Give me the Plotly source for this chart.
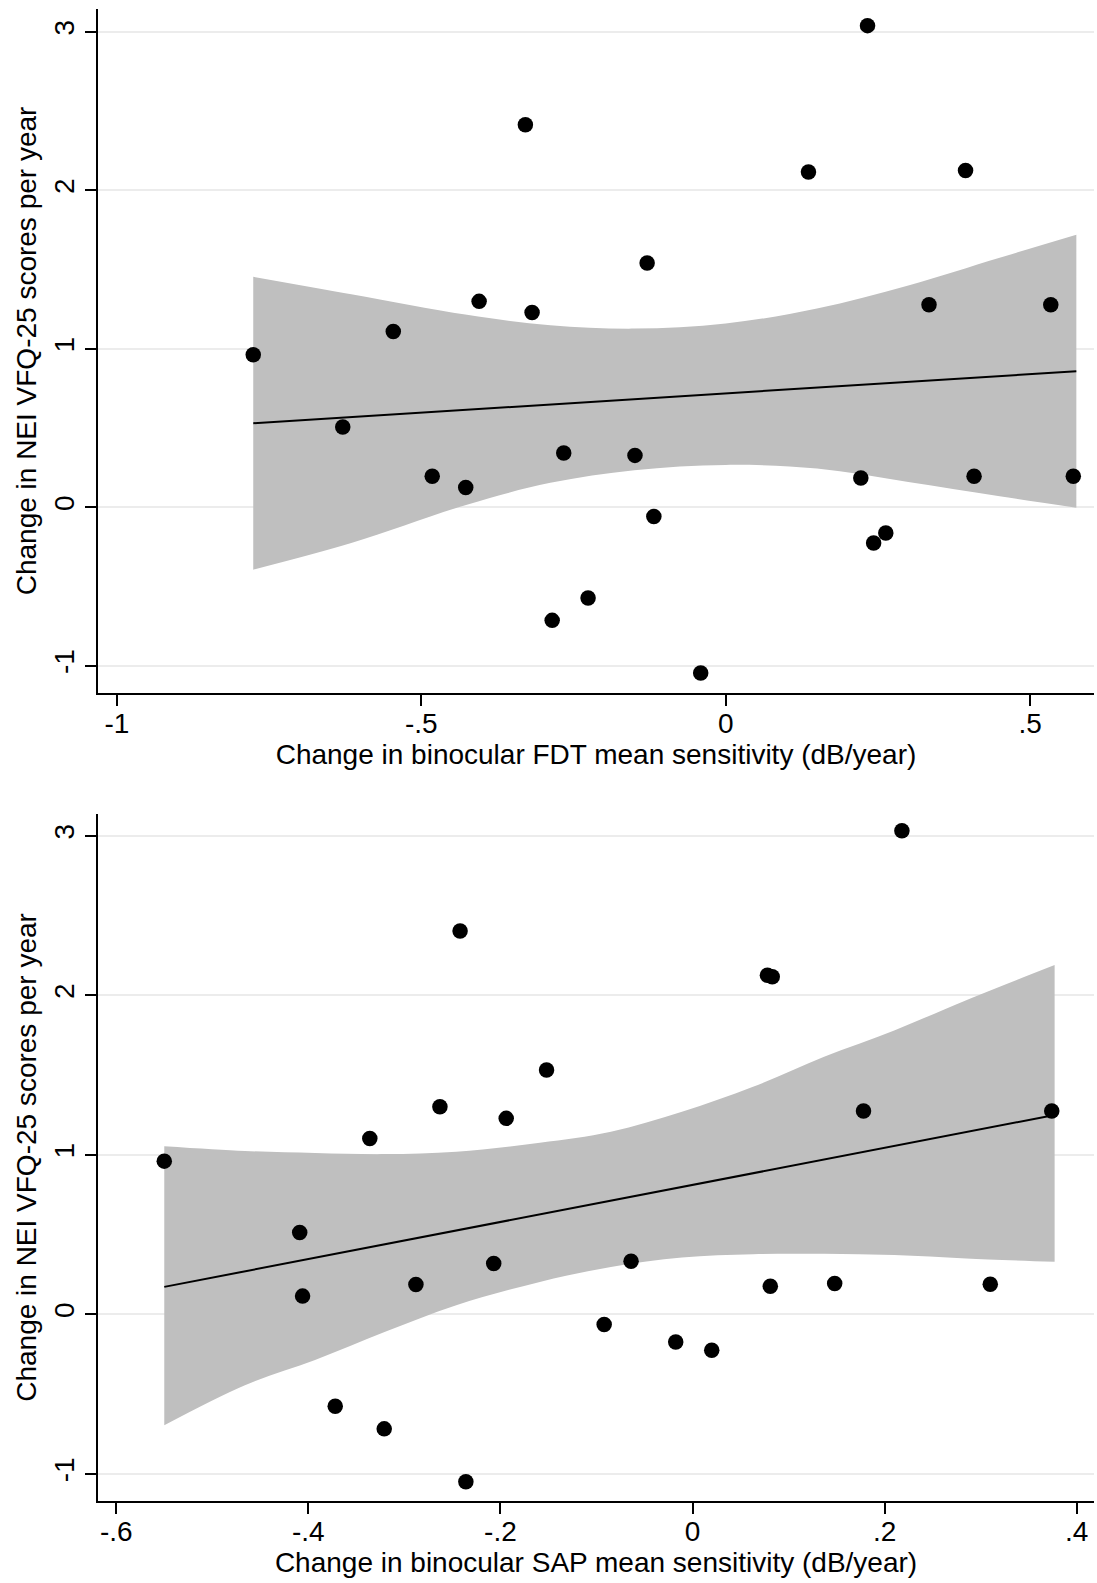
import plotly.graph_objects as go

# ---------------- data ----------------
fdt_x = [-0.776, -0.629, -0.546, -0.482, -0.427, -0.405, -0.329, -0.318, -0.285, -0.266,
         -0.226, -0.149, -0.129, -0.118, -0.041, 0.136, 0.222, 0.233, 0.243, 0.263,
         0.334, 0.394, 0.408, 0.534, 0.571]
fdt_y = [0.963, 0.507, 1.11, 0.196, 0.126, 1.30, 2.415, 1.23, -0.713, 0.343,
         -0.572, 0.328, 1.542, -0.057, -1.045, 2.116, 0.185, 3.04, -0.225, -0.162,
         1.279, 2.126, 0.196, 1.279, 0.196]

fdt_band_x = [-0.776, -0.615, -0.425, -0.288, -0.15, 0.0, 0.15, 0.3, 0.45, 0.576]
fdt_band_lo = [-0.393, -0.225, 0.017, 0.155, 0.235, 0.268, 0.245, 0.16, 0.07, -0.002]
fdt_band_hi = [1.455, 1.345, 1.215, 1.15, 1.128, 1.16, 1.255, 1.40, 1.575, 1.72]
fdt_fit_x = [-0.776, 0.576]
fdt_fit_y = [0.531, 0.859]

sap_x = [-0.550, -0.409, -0.406, -0.372, -0.336, -0.321, -0.288, -0.263, -0.242, -0.236,
         -0.207, -0.194, -0.152, -0.092, -0.064, -0.0175, 0.020, 0.078, 0.081, 0.083,
         0.148, 0.178, 0.218, 0.310, 0.374]
sap_y = [0.961, 0.514, 0.115, -0.575, 1.103, -0.717, 0.188, 1.302, 2.403, -1.049,
         0.32, 1.229, 1.532, -0.063, 0.334, -0.172, -0.224, 2.126, 0.177, 2.116,
         0.194, 1.275, 3.032, 0.19, 1.275]

sap_band_x = [-0.55, -0.466, -0.393, -0.32, -0.246, -0.159, -0.085, -0.011, 0.063, 0.137,
              0.21, 0.285, 0.377]
sap_band_lo = [-0.694, -0.443, -0.286, -0.109, 0.058, 0.204, 0.298, 0.357, 0.378, 0.38,
               0.372, 0.351, 0.33]
sap_band_hi = [1.055, 1.025, 1.012, 1.005, 1.02, 1.076, 1.145, 1.27, 1.427, 1.615,
               1.78, 1.97, 2.19]
sap_fit_x = [-0.55, 0.377]
sap_fit_y = [0.173, 1.25]

y_ticks = [-1, 0, 1, 2, 3]
y_ticktext = ["-1", "0", "1", "2", "3"]
fdt_xticks = [-1, -0.5, 0, 0.5]
fdt_xticktext = ["-1", "-.5", "0", ".5"]
sap_xticks = [-0.6, -0.4, -0.2, 0, 0.2, 0.4]
sap_xticktext = ["-.6", "-.4", "-.2", "0", ".2", ".4"]

x_title_top = "Change in binocular FDT mean sensitivity (dB/year)"
x_title_bot = "Change in binocular SAP mean sensitivity (dB/year)"
y_title = "Change in NEI VFQ-25 scores per year"

# ---------------- styling ----------------
BAND = "rgb(191,191,191)"
FONT = "Liberation Sans, Arial, Helvetica, sans-serif"
FS = 28

fig = go.Figure()


def add_panel(xa, ya, bx, lo, hi, fx, fy, px, py):
    fig.add_trace(go.Scatter(x=bx, y=lo, mode="lines", line=dict(width=0, shape="spline", color=BAND),
                             xaxis=xa, yaxis=ya, showlegend=False, hoverinfo="skip"))
    fig.add_trace(go.Scatter(x=bx, y=hi, mode="lines", line=dict(width=0, shape="spline", color=BAND),
                             fill="tonexty", fillcolor=BAND,
                             xaxis=xa, yaxis=ya, showlegend=False, hoverinfo="skip"))
    fig.add_trace(go.Scatter(x=fx, y=fy, mode="lines", line=dict(color="black", width=2),
                             xaxis=xa, yaxis=ya, showlegend=False))
    fig.add_trace(go.Scatter(x=px, y=py, mode="markers",
                             marker=dict(color="black", size=15.5, line=dict(width=0)),
                             xaxis=xa, yaxis=ya, showlegend=False))


add_panel("x", "y", fdt_band_x, fdt_band_lo, fdt_band_hi, fdt_fit_x, fdt_fit_y, fdt_x, fdt_y)
add_panel("x2", "y2", sap_band_x, sap_band_lo, sap_band_hi, sap_fit_x, sap_fit_y, sap_x, sap_y)

common_x = dict(showline=True, linecolor="black", linewidth=1.5, mirror=False,
                ticks="outside", ticklen=11, tickwidth=1.5, tickcolor="black",
                showgrid=False, zeroline=False, automargin=False,
                ticklabelstandoff=-6,
                tickfont=dict(family=FONT, size=FS, color="black"),
                title_font=dict(family=FONT, size=FS, color="black"),
                title_standoff=2)
common_y = dict(showline=True, linecolor="black", linewidth=1.5, mirror=False,
                ticks="outside", ticklen=11, tickwidth=1.5, tickcolor="black",
                showgrid=True, gridcolor="#ececec", gridwidth=2, zeroline=False,
                automargin=False, tickangle=-90,
                tickvals=y_ticks, ticktext=y_ticktext,
                tickfont=dict(family=FONT, size=FS, color="black"),
                title_font=dict(family=FONT, size=FS, color="black"),
                title_standoff=4)

fig.update_layout(
    width=1097, height=1583,
    margin=dict(l=98, r=3, t=9, b=82),
    paper_bgcolor="white", plot_bgcolor="white",
    xaxis=dict(common_x, domain=[0, 1], anchor="y", range=[-1.031, 0.605],
               tickvals=fdt_xticks, ticktext=fdt_xticktext, title_text=x_title_top),
    yaxis=dict(common_y, domain=[0.5416, 1], anchor="x", range=[-1.171, 3.145],
               title_text=y_title),
    xaxis2=dict(common_x, domain=[0, 1], anchor="y2", range=[-0.619, 0.418],
                tickvals=sap_xticks, ticktext=sap_xticktext, title_text=x_title_bot),
    yaxis2=dict(common_y, domain=[0, 0.4605], anchor="x2", range=[-1.169, 3.137],
                title_text=y_title),
)

fig.write_html(
    "out.html",
    config={"displayModeBar": False},
    post_script="document.body.style.margin='0px';document.body.style.padding='0px';"
                "document.body.style.overflow='hidden';",
)
